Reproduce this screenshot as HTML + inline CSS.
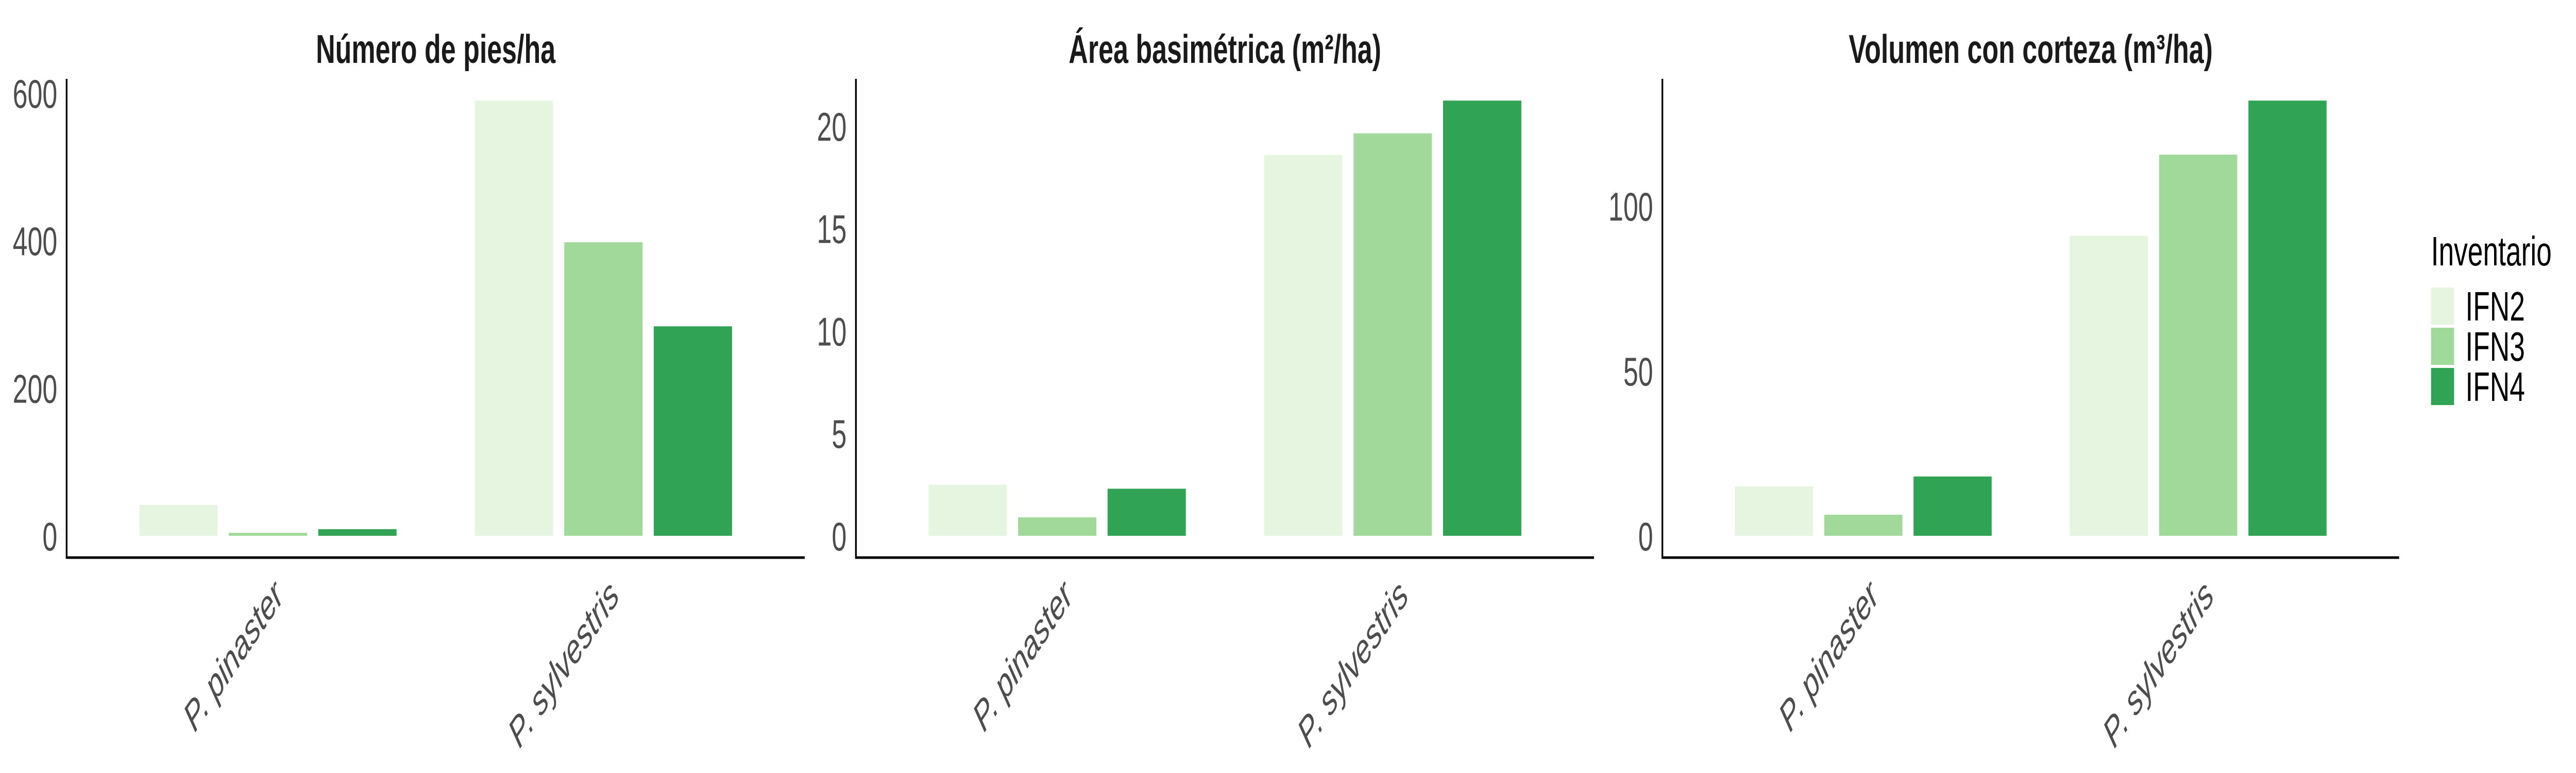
<!DOCTYPE html>
<html><head><meta charset="utf-8"><style>
html,body{margin:0;padding:0;background:#fff;width:100%;height:100%;overflow:hidden;}
svg{display:block;width:100vw;height:100vh;}
text{font-family:"Liberation Sans",sans-serif;}
</style></head><body>
<svg id="chart" viewBox="0 0 7500 1500" preserveAspectRatio="none" xmlns="http://www.w3.org/2000/svg"></svg>
<script>
const categories = ["P. pinaster", "P. sylvestris"];
const series = ["IFN2", "IFN3", "IFN4"];
const colors = ["#e5f5e0", "#a1d99b", "#31a354"];
const piesIFN2 = [42, 590];
const piesIFN3 = [4, 398];
const piesIFN4 = [9, 284];
const abIFN2 = [2.5, 18.6];
const abIFN3 = [0.9, 19.65];
const abIFN4 = [2.3, 21.25];
const volIFN2 = [15, 91];
const volIFN3 = [6.4, 115.6];
const volIFN4 = [18, 132];
const piesTicks = [0, 200, 400, 600];
const abTicks = [0, 5, 10, 15, 20];
const volTicks = [0, 50, 100];
const titles = ["Número de pies/ha", "Área basimétrica (m²/ha)", "Volumen con corteza (m³/ha)"];

const NS = "http://www.w3.org/2000/svg";
const svg = document.getElementById("chart");
function mk(tag, attrs, parent) {
  const e = document.createElementNS(NS, tag);
  for (const k in attrs) e.setAttribute(k, attrs[k]);
  (parent || svg).appendChild(e);
  return e;
}
const panels = [
  {x0: 194, x1: 2343, data: [piesIFN2, piesIFN3, piesIFN4], ticks: piesTicks, key: "pies"},
  {x0: 2492, x1: 4641, data: [abIFN2, abIFN3, abIFN4], ticks: abTicks, key: "area-basimetrica"},
  {x0: 4840, x1: 6985, data: [volIFN2, volIFN3, volIFN4], ticks: volTicks, key: "volumen"}
];
const yTop = 153, yBot = 1082;
panels.forEach((p, pi) => {
  const g = mk("g", {});
  
  
  let maxV = 0;
  p.data.forEach(s => s.forEach(v => { if (v > maxV) maxV = v; }));
  const lo = -0.05 * maxV, hi = maxV * 1.05;
  const y = v => yBot - (v - lo) / (hi - lo) * (yBot - yTop);
  const unit = (p.x1 - p.x0) / 2.2;
  const xc = i => p.x0 + (0.6 + i) * unit;
  const slot = 0.8 / 3 * unit, bw = 0.7 / 3 * unit;
  const t = mk("text", {x: (p.x0 + p.x1) / 2, y: 122, "text-anchor": "middle", "font-size": 78, "font-weight": "bold", fill: "#1a1a1a"}, g);
  t.textContent = titles[pi];
  
  
  p.data.forEach((s, si) => {
    s.forEach((v, ci) => {
      const bx = xc(ci) - 1.5 * slot + si * slot + (slot - bw) / 2;
      const r = mk("rect", {x: bx, y: y(v), width: bw, height: y(0) - y(v), fill: colors[si]}, g);
      
      
    });
  });
  p.ticks.forEach(tv => {
    const tl = mk("text", {x: p.x0 - 27, y: y(tv) + 28, "text-anchor": "end", "font-size": 78, fill: "#4d4d4d"}, g);
    tl.textContent = tv;
    
    
  });
  const ya = mk("line", {x1: p.x0, y1: yTop, x2: p.x0, y2: yBot + 2, stroke: "#000", "stroke-width": 5}, g);
  
  
  const xa = mk("line", {x1: p.x0 - 2, y1: yBot, x2: p.x1, y2: yBot, stroke: "#000", "stroke-width": 5}, g);
  
  
  categories.forEach((c, ci) => {
    const cx = xc(ci) + 50, cy = 1160;
    const xl = mk("text", {x: cx, y: cy, "text-anchor": "end", "font-size": 80, "font-style": "italic", fill: "#4d4d4d", transform: "rotate(-45 " + cx + " " + cy + ")"}, g);
    xl.textContent = c;
    
    
  });
});
const lg = mk("g", {});


const lt = mk("text", {x: 7078, y: 515, "font-size": 80, fill: "#000"}, lg);
lt.textContent = "Inventario";


series.forEach((s, i) => {
  const ky = 558 + i * 78;
  const k = mk("rect", {x: 7078, y: ky, width: 67, height: 72, fill: colors[i]}, lg);
  
  
  const l = mk("text", {x: 7178, y: ky + 64, "font-size": 80, fill: "#000"}, lg);
  l.textContent = s;
  
  
});
</script>
</body></html>
